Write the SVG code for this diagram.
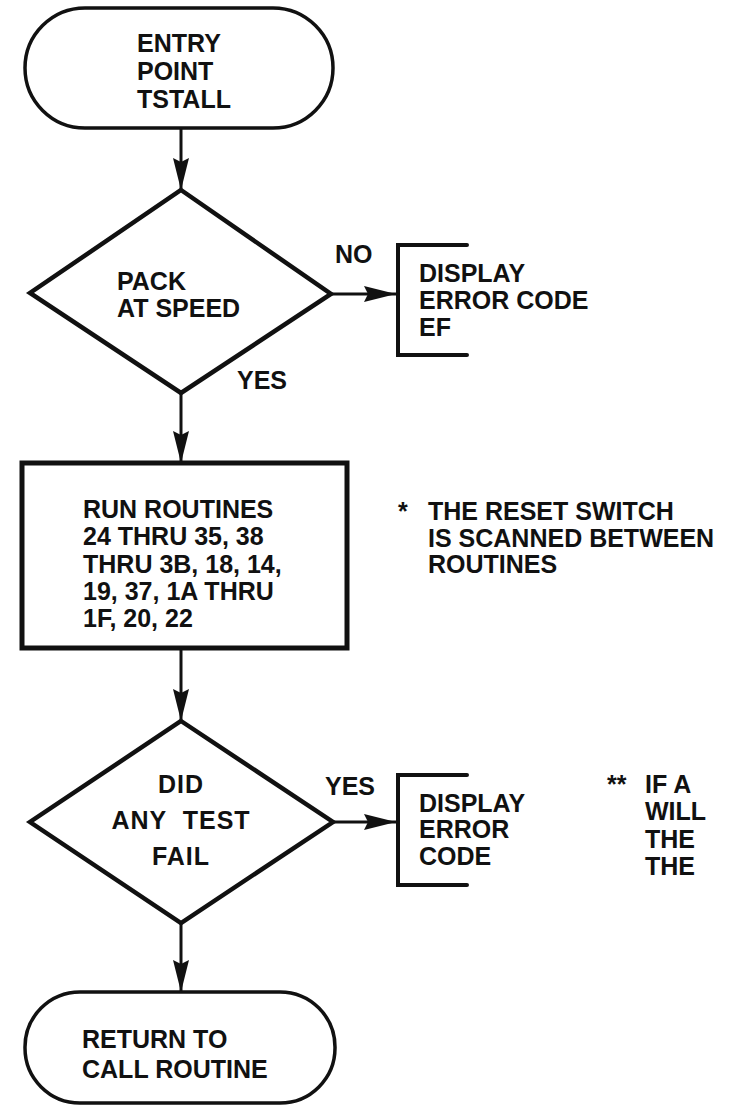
<svg xmlns="http://www.w3.org/2000/svg" width="729" height="1111" viewBox="0 0 729 1111">
<style>
text{font-family:"Liberation Sans",Arial,sans-serif;font-weight:bold;font-size:25px;fill:#111}
.shape{fill:#fff;stroke:#111;stroke-linejoin:miter}
.term{stroke-width:3.5}
.dia{stroke-width:4.5}
.box{stroke-width:5}
.brk{fill:none;stroke:#111;stroke-width:4;stroke-linecap:round}
.con{fill:none;stroke:#111;stroke-width:3}
</style>
<defs>
<marker id="arr" markerUnits="userSpaceOnUse" markerWidth="32" markerHeight="16" refX="32" refY="8" orient="auto" viewBox="0 0 32 16">
<path d="M0,0 L32,8 L0,16 L4,8 z" fill="#111"/>
</marker>
</defs>
<rect width="729" height="1111" fill="#fff"/>
<g id="connectors">
<line class="con" x1="181" y1="128" x2="181" y2="190" marker-end="url(#arr)"/>
<line class="con" x1="331" y1="294" x2="396" y2="294" marker-end="url(#arr)"/>
<line class="con" x1="181" y1="393" x2="181" y2="463" marker-end="url(#arr)"/>
<line class="con" x1="181" y1="648" x2="181" y2="721" marker-end="url(#arr)"/>
<line class="con" x1="333" y1="822" x2="396" y2="822" marker-end="url(#arr)"/>
<line class="con" x1="181" y1="923" x2="181" y2="992" marker-end="url(#arr)"/>
<text x="335" y="263">NO</text>
<text x="237" y="389">YES</text>
<text x="325" y="795">YES</text>
</g>
<g id="entry">
<rect class="shape term" x="25" y="8" width="308" height="120" rx="60" ry="60"/>
<text x="137" y="52">ENTRY</text>
<text x="137" y="80">POINT</text>
<text x="137" y="108">TSTALL</text>
</g>
<g id="packAtSpeed">
<polygon class="shape dia" points="181,190 331,294 181,393 30,293"/>
<text x="117" y="290">PACK</text>
<text x="117" y="317">AT SPEED</text>
</g>
<g id="displayEF">
<path class="brk" d="M467,245 L398,245 L398,355 L467,355"/>
<text x="419" y="282">DISPLAY</text>
<text x="419" y="309">ERROR CODE</text>
<text x="419" y="336">EF</text>
</g>
<g id="runRoutines">
<rect class="shape box" x="22" y="463" width="325" height="185"/>
<text x="83" y="518">RUN ROUTINES</text>
<text x="83" y="545">24 THRU 35, 38</text>
<text x="83" y="573">THRU 3B, 18, 14,</text>
<text x="83" y="600">19, 37, 1A THRU</text>
<text x="83" y="627">1F, 20, 22</text>
</g>
<g id="note1">
<text x="398" y="520">*</text>
<text x="428" y="520">THE RESET SWITCH</text>
<text x="428" y="547">IS SCANNED BETWEEN</text>
<text x="428" y="573">ROUTINES</text>
</g>
<g id="anyTestFail">
<polygon class="shape dia" points="181,721 333,822 181,923 30,822"/>
<text x="181" y="793" text-anchor="middle" letter-spacing="1">DID</text>
<text x="181" y="829" text-anchor="middle" letter-spacing="1" word-spacing="8">ANY TEST</text>
<text x="181" y="865" text-anchor="middle" letter-spacing="1">FAIL</text>
</g>
<g id="displayCode">
<path class="brk" d="M467,775 L398,775 L398,885 L467,885"/>
<text x="419" y="812">DISPLAY</text>
<text x="419" y="838">ERROR</text>
<text x="419" y="865">CODE</text>
</g>
<g id="note2">
<text x="607" y="793">**</text>
<text x="645" y="793">IF A</text>
<text x="645" y="820">WILL</text>
<text x="645" y="848">THE</text>
<text x="645" y="875">THE</text>
</g>
<g id="return">
<rect class="shape term" x="25" y="992" width="310" height="111" rx="55" ry="55"/>
<text x="82" y="1048">RETURN TO</text>
<text x="82" y="1078">CALL ROUTINE</text>
</g>
</svg>
